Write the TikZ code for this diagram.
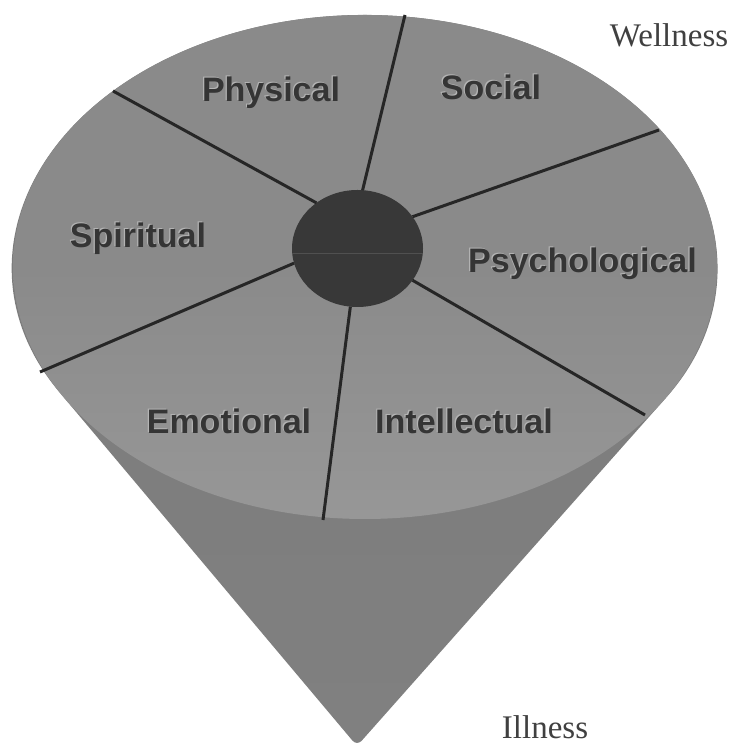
\documentclass[tikz,border=0pt]{standalone}
\usepackage{fontspec}
\setmainfont{Liberation Serif}
\setsansfont{Liberation Sans}
\usetikzlibrary{shapes.geometric}
\definecolor{facetop}{HTML}{8A8A8A}
\definecolor{facebot}{HTML}{979797}
\definecolor{conetop}{HTML}{7A7A7A}
\definecolor{conebot}{HTML}{808080}
\definecolor{hubc}{HTML}{383838}
\definecolor{spokec}{HTML}{262626}
\definecolor{labc}{HTML}{353535}
\definecolor{haloc}{HTML}{B4B4B4}
\definecolor{endc}{HTML}{404040}
\newcommand{\emb}[1]{\makebox[0pt][l]{\hspace*{-1.2pt}\raisebox{1.2pt}{\color{haloc}#1}}#1}
\begin{document}
\begin{tikzpicture}[x=1pt,y=1pt,
  seclabel/.style={font=\sffamily\bfseries\fontsize{34}{40}\selectfont, text=labc, inner sep=0, anchor=base},
  endlabel/.style={font=\rmfamily\fontsize{33}{40}\selectfont, text=endc, inner sep=0, anchor=base},
  spoke/.style={draw=spokec, line width=3pt},
  hubstyle/.style={ellipse, fill=hubc, minimum width=131pt, minimum height=117pt, inner sep=0, outer sep=0}
]
\useasboundingbox (0,0) rectangle (735,747);
\fill[white] (0,0) rectangle (735,747);
% cone
\coordinate (tip) at (357,1);
\shade[top color=conetop, bottom color=conebot, rounded corners=7pt]
  (tip) -- (63,350.6) arc[start angle=210.9, end angle=-32.3, x radius=352, y radius=252] -- cycle;
% top face
\shade[top color=facetop, bottom color=facebot, middle color=facetop] (365,480) ellipse[x radius=352, y radius=252];
% hub
\node[hubstyle] (hub) at (357.5,498.5) {};
\draw[hubc!88!white, line width=0.5pt] ([yshift=-4.5pt]hub.west) -- ([yshift=-4.5pt]hub.east);
% rim points
\coordinate (r1) at (405,732);
\coordinate (r2) at (113,656);
\coordinate (r3) at (659,617);
\coordinate (r4) at (40,375);
\coordinate (r5) at (645,332);
\coordinate (r6) at (323,227);
\draw[spoke] (hub.85) -- (r1);
\draw[spoke] (hub.132) -- (r2);
\draw[spoke] (hub.30) -- (r3);
\draw[spoke] (hub.193) -- (r4);
\draw[spoke] (hub.330) -- (r5);
\draw[spoke] (hub.263) -- (r6);
% labels
\node[seclabel] (phys) at (271,645) {\emb{Physical}};
\node[seclabel] (soc) at (491,647) {\emb{Social}};
\node[seclabel] (spir) at (138,499) {\emb{Spiritual}};
\node[seclabel] (psy) at (582.5,474) {\emb{Psychological}};
\node[seclabel] (emo) at (229,313) {\emb{Emotional}};
\node[seclabel] (intel) at (464,313) {\emb{Intellectual}};
\node[endlabel] (well) at (669,700) {Wellness};
\node[endlabel] (ill) at (545,9) {Illness};
\end{tikzpicture}
\end{document}
